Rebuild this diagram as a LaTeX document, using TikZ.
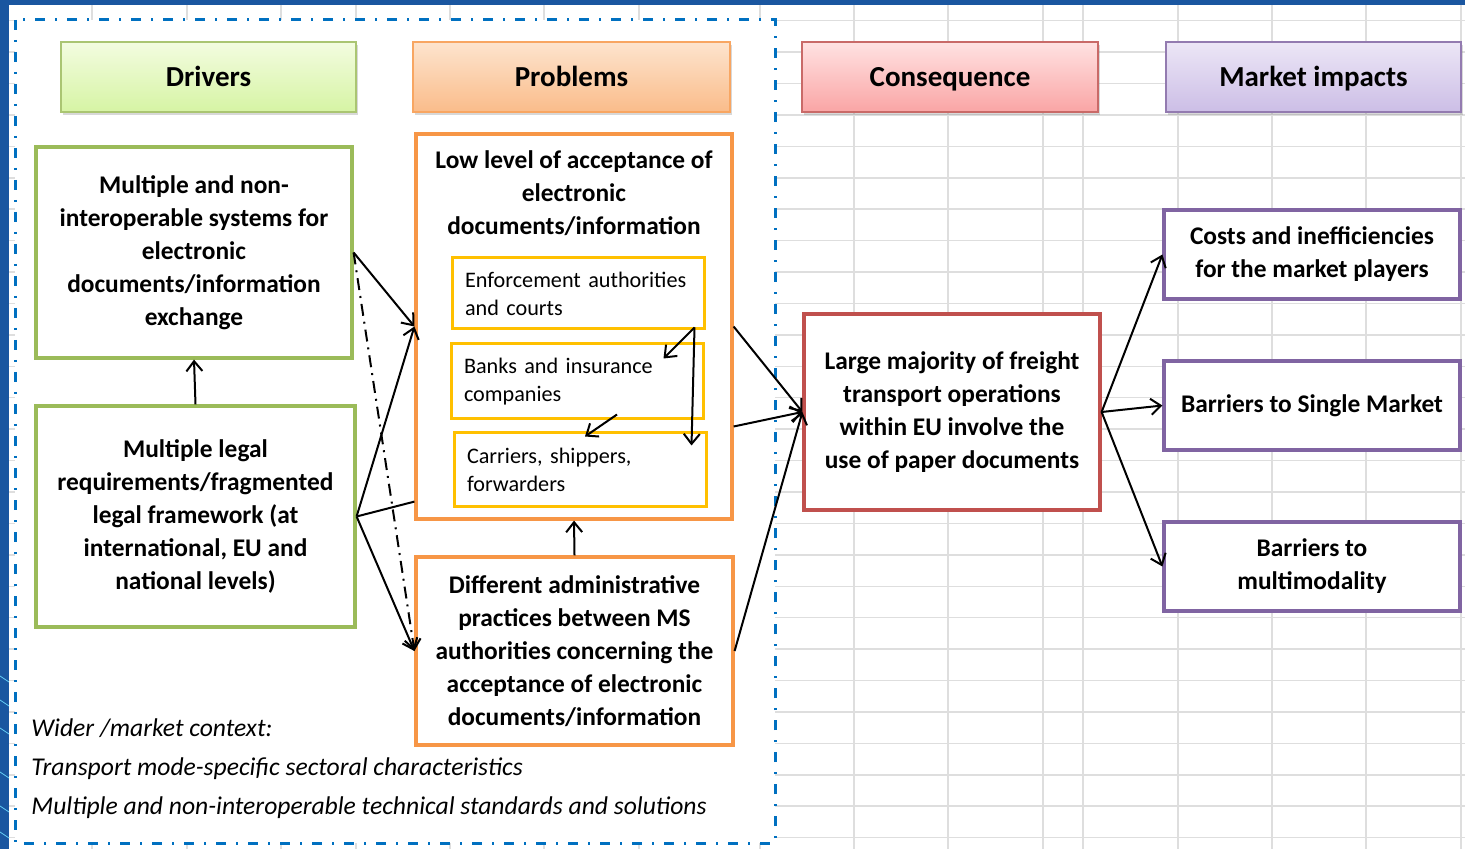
\documentclass[tikz,border=0pt]{standalone}
\usepackage{fontspec}
\setmainfont{Carlito}
\usepackage{tikz}
\usetikzlibrary{arrows.meta,positioning,calc,shadows}
\definecolor{edgeblue}{RGB}{26,86,160}
\definecolor{frameblue}{RGB}{0,112,192}
\definecolor{gridgray}{RGB}{222,222,222}
\definecolor{drvgreen}{RGB}{155,187,89}
\definecolor{prborange}{RGB}{247,150,70}
\definecolor{csqred}{RGB}{192,80,77}
\definecolor{mktpurple}{RGB}{128,100,162}
\definecolor{subyellow}{RGB}{255,192,0}
\definecolor{drvtop}{RGB}{243,252,224}
\definecolor{drvbot}{RGB}{214,244,164}
\definecolor{prbtop}{RGB}{253,228,206}
\definecolor{prbbot}{RGB}{250,188,138}
\definecolor{csqtop}{RGB}{255,226,226}
\definecolor{csqbot}{RGB}{250,165,165}
\definecolor{mkttop}{RGB}{236,230,246}
\definecolor{mktbot}{RGB}{204,190,230}
\tikzset{
  hdrbox/.style={
    draw,line width=1pt,minimum height=35pt,inner sep=0pt,
    text height=13pt,text depth=3pt,
    font=\fontsize{14.5}{17}\selectfont\bfseries,
    drop shadow={shadow xshift=1pt,shadow yshift=-1.5pt,opacity=0.3}
  },
  drvhdr/.style={hdrbox,draw=drvgreen!85,top color=drvtop,bottom color=drvbot,minimum width=147.5pt},
  prbhdr/.style={hdrbox,draw=prborange!85,top color=prbtop,bottom color=prbbot,minimum width=158.5pt},
  csqhdr/.style={hdrbox,draw=csqred!85,top color=csqtop,bottom color=csqbot,minimum width=148pt},
  mkthdr/.style={hdrbox,draw=mktpurple!85,top color=mkttop,bottom color=mktbot,minimum width=147.5pt},
  mainbox/.style={
    draw,line width=1.6pt,fill=white,align=center,inner sep=0pt,
    font=\fontsize{12.7}{16.5}\selectfont\bfseries
  },
  drvbox/.style={mainbox,draw=drvgreen},
  prbbox/.style={mainbox,draw=prborange},
  csqbox/.style={mainbox,draw=csqred},
  mktbox/.style={mainbox,draw=mktpurple,minimum width=148pt,minimum height=44.5pt},
  subbox/.style={
    draw=subyellow,line width=1.5pt,fill=white,align=left,
    inner xsep=6.5pt,inner ysep=0pt,text width=113pt,
    font=\fontsize{11.1}{14}\selectfont
  },
  ctxtext/.style={align=left,inner sep=0pt,font=\fontsize{12.8}{19.5}\selectfont\itshape},
  ctxframe/.style={draw=frameblue,line width=1.5pt,fill=white,dash pattern=on 5pt off 5pt on 1pt off 5pt},
  gridline/.style={draw=gridgray,line width=0.75pt},
  conn/.style={-{Straight Barb[length=5pt,width=8pt]},line width=1pt},
  connline/.style={line width=1pt},
  conndash/.style={conn,dash pattern=on 6pt off 3pt on 1pt off 3pt}
}
\begin{document}
\begin{tikzpicture}[x=0.5pt,y=-0.5pt]
  \useasboundingbox (0,0) rectangle (1465,849);
  % spreadsheet grid behind
  \foreach \gx in {92,187,281,356,450,544,639,760,854,948,1043,1083,1178,1272,1366,1461}
    \draw[gridline] (\gx,5) -- (\gx,849);
  \foreach \k in {0,...,26}
    \draw[gridline] (9,{20.7+\k*31.42}) -- (1465,{20.7+\k*31.42});
  \fill[edgeblue] (0,0) rectangle (1465,5);
  \fill[edgeblue] (0,0) rectangle (9,849);
  \foreach \sy in {676,700,728,772,806,832}
    \draw[cyan!60,line width=0.4pt] (0,\sy) -- (9,{\sy+6});
  % context frame
  \draw[ctxframe] (15,20) rectangle (775,843);
  % column headers
  \node[drvhdr] (hdrv) at (208.5,77) {Drivers};
  \node[prbhdr] (hprb) at (571.5,77) {Problems};
  \node[csqhdr] (hcsq) at (950,77) {Consequence};
  \node[mkthdr] (hmkt) at (1313.5,77) {Market impacts};
  % drivers
  \node[drvbox,minimum width=158pt,minimum height=105.5pt] (sys) at (194,252.5)
    {Multiple and non-\\interoperable systems for\\electronic\\documents/information\\exchange};
  \node[drvbox,minimum width=159.5pt,minimum height=110.5pt] (legal) at (195.5,516.5)
    {Multiple legal\\requirements/fragmented\\legal framework (at\\international, EU and\\national levels)};
  % problems
  \node[prbbox,minimum width=158pt,minimum height=192.5pt] (low) at (574,326.5) {};
  \node[mainbox,draw=none] (lowtxt) at (574,193)
    {Low level of acceptance of\\electronic\\documents/information};
  \node[subbox,minimum height=35.5pt] (enf) at (578,293.5) {Enforcement authorities\\and courts};
  \node[subbox,minimum height=37.5pt] (bnk) at (577,381.5) {Banks and insurance\\companies};
  \node[subbox,minimum height=36.5pt] (crr) at (580,469.5) {Carriers, shippers,\\forwarders};
  \node[prbbox,minimum width=158.5pt,minimum height=94pt] (adm) at (574.5,651)
    {Different administrative\\practices between MS\\authorities concerning the\\acceptance of electronic\\documents/information};
  % consequence and market impacts
  \node[csqbox,minimum width=148pt,minimum height=98pt] (paper) at (952,412)
    {Large majority of freight\\transport operations\\within EU involve the\\use of paper documents};
  \node[mktbox] (cost) at (1312,254.5) {Costs and inefficiencies\\for the market players};
  \node[mktbox] (single) at (1312,405.5) {Barriers to Single Market};
  \node[mktbox] (multi) at (1312,566.5) {Barriers to\\multimodality};
  \node[ctxtext,anchor=west] (ctx) at (31,769)
    {Wider /market context:\\Transport mode-specific sectoral characteristics\\Multiple and non-interoperable technical standards and solutions};
  % connectors
  \draw[conn] (legal.north) -- (sys.south);
  \draw[conn] (sys.east) -- (low.west);
  \draw[conndash] (sys.east) -- (adm.west);
  \draw[conn] (legal.east) -- (low.west);
  \draw[connline] (legal.east) -- ([yshift=9.5pt]low.south west);
  \draw[conn] (legal.east) -- (adm.west);
  \draw[conn] (adm.north) -- (low.south);
  \coordinate (split) at ([xshift=-5.5pt,yshift=1.5pt]enf.south east);
  \coordinate (bnkin) at ([xshift=-20.5pt,yshift=-8pt]bnk.north east);
  \coordinate (crrin) at ([xshift=-8pt,yshift=-7pt]crr.north east);
  \coordinate (bnkout) at ([xshift=20pt,yshift=3pt]bnk.south);
  \coordinate (crrtop) at ([xshift=2.5pt,yshift=-2.5pt]crr.north);
  \draw[conn] (split) -- (bnkin);
  \draw[conn] (split) -- (crrin);
  \draw[conn] (bnkout) -- (crrtop);
  \draw[conn] (low.east) -- (paper.west);
  \draw[conn] ([yshift=-50pt]low.east) -- (paper.west);
  \draw[conn] (adm.east) -- (paper.west);
  \draw[conn] (paper.east) -- (cost.west);
  \draw[conn] (paper.east) -- (single.west);
  \draw[conn] (paper.east) -- (multi.west);
\end{tikzpicture}
\end{document}
